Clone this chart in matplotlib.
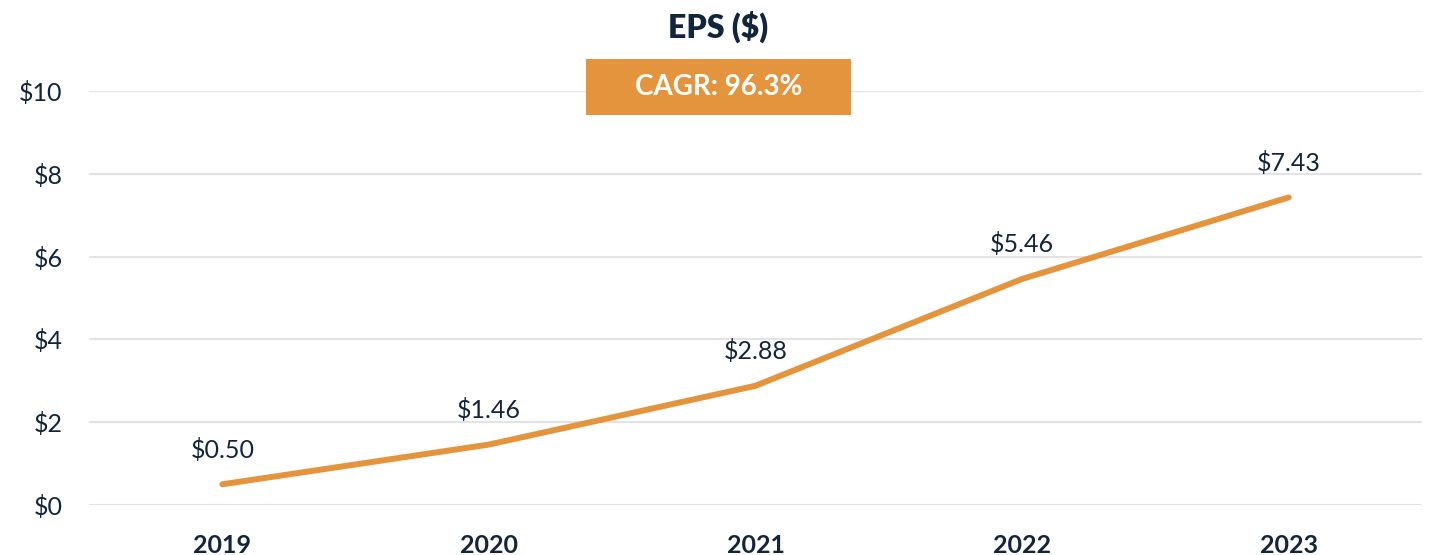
import matplotlib.pyplot as plt
from matplotlib.patches import Rectangle

years = ['2019', '2020', '2021', '2022', '2023']
eps = [0.50, 1.46, 2.88, 5.46, 7.43]
y_ticks = [0, 2, 4, 6, 8, 10]
cagr_text = 'CAGR: 96.3%'

orange = '#E5943E'
navy = '#13253D'

plt.rcParams['font.family'] = ['Lato', 'DejaVu Sans']

fig = plt.figure(figsize=(14.32, 5.55), dpi=100)
ax = fig.add_axes([0.0622, 0.0901, 0.9308, 0.7459])

x = range(len(years))
ax.plot(x, eps, color=orange, lw=4.3, solid_capstyle='round', zorder=3)
for i, v in zip(x, eps):
    ax.annotate(f'${v:.2f}', (i, v), xytext=(0, 25), textcoords='offset points',
                ha='center', va='center', fontsize=18, color=navy)

ax.set_xlim(-0.5, len(years) - 0.5)
ax.set_ylim(0, 10)
ax.set_xticks(list(x))
ax.set_xticklabels(years, fontsize=18, fontweight='bold', color=navy)
ax.set_yticks(y_ticks)
ax.set_yticklabels([f'${t}' for t in y_ticks], fontsize=18, color=navy)
ax.tick_params(length=0)
ax.tick_params(axis='x', pad=21)
ax.tick_params(axis='y', pad=19)
ax.grid(axis='y', color='#E3E3E3', lw=1.5)
ax.set_axisbelow(True)
for s in ax.spines.values():
    s.set_visible(False)

fig.text(0.5017, 0.952, 'EPS ($)', ha='center', va='center', fontsize=23,
         fontweight='heavy', color=navy)
fig.patches.append(Rectangle((0.4092, 0.7928), 0.1851, 0.1009, transform=fig.transFigure,
                             facecolor=orange, edgecolor='none', zorder=5))
fig.text(0.5017, 0.8432, cagr_text, ha='center', va='center', fontsize=20,
         fontweight='bold', color='white', zorder=6)

fig.savefig('out.png', dpi=100)
